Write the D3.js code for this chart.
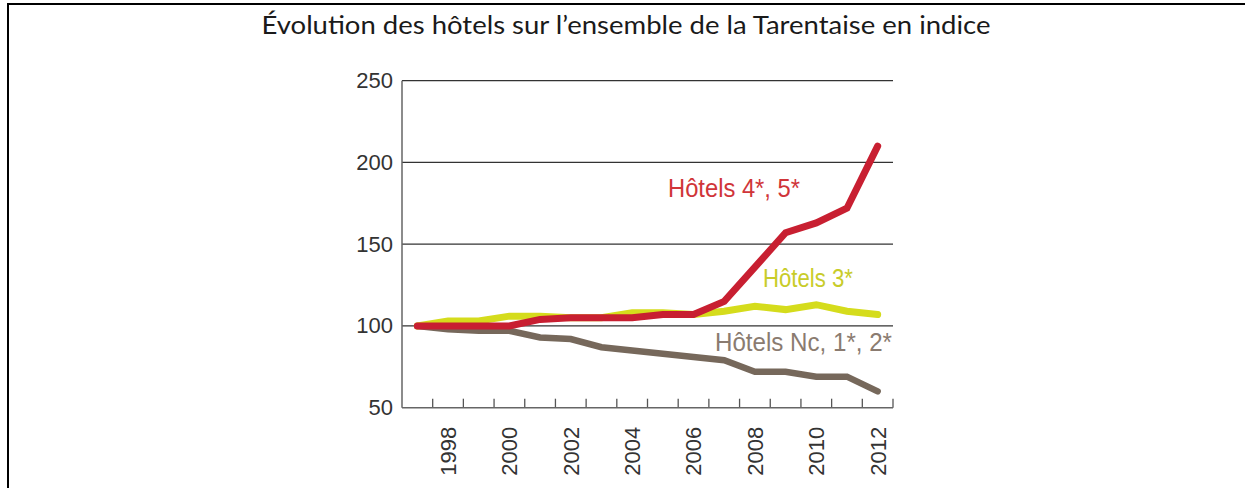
<!DOCTYPE html>
<html lang="fr">
<head>
<meta charset="utf-8">
<title>Évolution des hôtels sur l’ensemble de la Tarentaise en indice</title>
<script src="https://cdn.jsdelivr.net/npm/d3@7"></script>
<style>
  html, body { margin: 0; padding: 0; background: #fff; }
  svg { display: block; }
</style>
</head>
<body>
<svg id="chart" width="1245" height="488"></svg>
<script>
// Index values, base 100 in 1997
const years = [1997, 1998, 1999, 2000, 2001, 2002, 2003, 2004, 2005, 2006, 2007, 2008, 2009, 2010, 2011, 2012];
const hotels45 = [100, 100, 100, 100, 104, 105, 105, 105, 107, 107, 115, 136, 157, 163, 172, 210];
const hotels3 = [100, 103, 103, 106, 106, 105, 105, 108, 108, 107, 109, 112, 110, 113, 109, 107];
const hotelsNc12 = [100, 98, 97, 97, 93, 92, 87, 85, 83, 81, 79, 72, 72, 69, 69, 60];
const yTicks = [50, 100, 150, 200, 250];
const xLabelYears = [1998, 2000, 2002, 2004, 2006, 2008, 2010, 2012];
const seriesNames = ["Hôtels Nc, 1*, 2*", "Hôtels 3*", "Hôtels 4*, 5*"];

const svg = d3.select("#chart");

// Outer frame (top and left rules)
svg.append("line").attr("x1", 7).attr("x2", 1245).attr("y1", 4).attr("y2", 4)
  .attr("stroke", "#000").attr("stroke-width", 2);
svg.append("line").attr("x1", 8).attr("x2", 8).attr("y1", 3).attr("y2", 488)
  .attr("stroke", "#000").attr("stroke-width", 2);

// Title
svg.append("text")
  .attr("x", 626).attr("y", 34)
  .attr("text-anchor", "middle")
  .attr("font-family", "Lato, 'Open Sans', sans-serif")
  .attr("font-size", 24.5)
  .attr("fill", "#1a1a1a")
  .attr("textLength", 729)
  .attr("lengthAdjust", "spacingAndGlyphs")
  .text("Évolution des hôtels sur l’ensemble de la Tarentaise en indice");

const plot = { left: 402, right: 893, top: 80.7, bottom: 407.7 };

const x = d3.scaleBand().domain(years).range([plot.left, plot.right]).padding(0);
const y = d3.scaleLinear().domain([50, 250]).range([plot.bottom, plot.top]);
const cx = d => x(d) + x.bandwidth() / 2;

// Horizontal grid lines
svg.append("g")
  .selectAll("line")
  .data(yTicks.filter(t => t > 50))
  .join("line")
  .attr("x1", plot.left).attr("x2", plot.right)
  .attr("y1", d => y(d)).attr("y2", d => y(d))
  .attr("stroke", "#333").attr("stroke-width", 1.2);

// Y axis (labels only, line drawn separately)
const yAxis = d3.axisLeft(y).tickValues(yTicks).tickSize(0).tickPadding(9);
const gy = svg.append("g").attr("transform", `translate(${plot.left},0)`).call(yAxis);
gy.select(".domain").remove();
gy.selectAll("text")
  .attr("font-family", "'Liberation Sans', Arial, sans-serif")
  .attr("font-size", 22)
  .attr("fill", "#333");

// Y axis line
svg.append("line")
  .attr("x1", plot.left).attr("x2", plot.left)
  .attr("y1", plot.top).attr("y2", plot.bottom)
  .attr("stroke", "#666").attr("stroke-width", 1.5);

// X axis: band boundaries as inward ticks
const boundaries = years.map(d => x(d)).concat([plot.right]);
svg.append("g")
  .selectAll("line")
  .data(boundaries.slice(1))
  .join("line")
  .attr("x1", d => d).attr("x2", d => d)
  .attr("y1", plot.bottom).attr("y2", plot.bottom - 9)
  .attr("stroke", "#555").attr("stroke-width", 1.3);
svg.append("line")
  .attr("x1", plot.left).attr("x2", plot.right)
  .attr("y1", plot.bottom).attr("y2", plot.bottom)
  .attr("stroke", "#666").attr("stroke-width", 1.5);

// X labels, rotated
svg.append("g")
  .selectAll("text")
  .data(xLabelYears)
  .join("text")
  .attr("transform", d => `translate(${cx(d)},${plot.bottom + 19}) rotate(-90)`)
  .attr("text-anchor", "end")
  .attr("dy", "0.36em")
  .attr("font-family", "'Liberation Sans', Arial, sans-serif")
  .attr("font-size", 22)
  .attr("fill", "#333")
  .text(d => d);

// Series lines
const line = d3.line()
  .x((d, i) => cx(years[i]))
  .y(d => y(d));

const series = [
  { name: seriesNames[0], values: hotelsNc12, color: "#76685b", width: 6.5 },
  { name: seriesNames[1], values: hotels3, color: "#d5dc1c", width: 7 },
  { name: seriesNames[2], values: hotels45, color: "#c81f31", width: 7 }
];

svg.append("g")
  .selectAll("path")
  .data(series)
  .join("path")
  .attr("d", d => line(d.values))
  .attr("fill", "none")
  .attr("stroke", d => d.color)
  .attr("stroke-width", d => d.width)
  .attr("stroke-linecap", "round")
  .attr("stroke-linejoin", "miter");

// Series labels
const labels = [
  { text: seriesNames[2], x: 668, y: 197, size: 25, len: 132, color: "#d03539" },
  { text: seriesNames[1], x: 763, y: 287, size: 25, len: 90, color: "#c8cc29" },
  { text: seriesNames[0], x: 715, y: 351, size: 25, len: 177, color: "#8a7b70" }
];
svg.append("g")
  .selectAll("text")
  .data(labels)
  .join("text")
  .attr("x", d => d.x).attr("y", d => d.y)
  .attr("font-family", "'Liberation Sans', Arial, sans-serif")
  .attr("font-size", d => d.size)
  .attr("textLength", d => d.len)
  .attr("lengthAdjust", "spacingAndGlyphs")
  .attr("fill", d => d.color)
  .text(d => d.text);
</script>
</body>
</html>
